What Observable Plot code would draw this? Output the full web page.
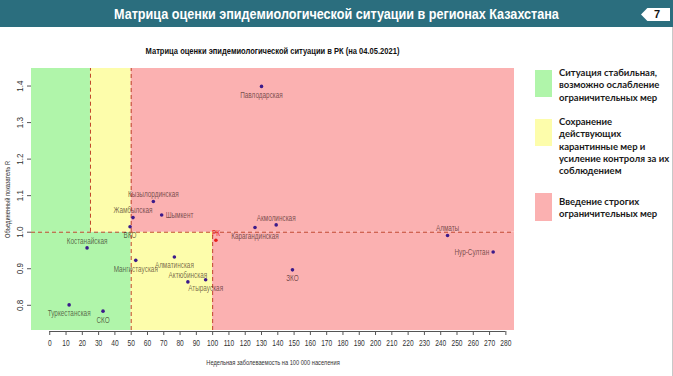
<!DOCTYPE html>
<html><head><meta charset="utf-8">
<script src="https://cdn.jsdelivr.net/npm/d3@7"></script>
<script src="https://cdn.jsdelivr.net/npm/@observablehq/plot@0.6"></script>
<style>
body{margin:0;width:673px;height:376px;overflow:hidden;background:#fff;position:relative;font-family:"Liberation Sans",Arial,sans-serif;}
#bar{position:absolute;left:0;top:0;width:673px;height:27px;background:#2b6e7e;}
#bar .t{position:absolute;left:0;width:673px;top:6px;text-align:center;color:#fff;font-weight:bold;font-size:14px;transform:scaleX(0.9);transform-origin:336px 0;}
#badge{position:absolute;left:641px;top:8px;width:29px;height:13px;background:#fff;clip-path:polygon(22% 0,100% 0,100% 100%,22% 100%,0 50%);}
#badge span{position:absolute;left:13px;top:0px;font:bold 11px "Liberation Sans",Arial,sans-serif;color:#111;line-height:13px;}
#edge{position:absolute;left:672px;top:27px;width:1px;height:349px;background:#c8c8c8;}
#ctitle{position:absolute;left:0;width:545px;top:45px;text-align:center;font-weight:bold;font-size:9.8px;color:#111;transform:scaleX(0.77);transform-origin:272.5px 0;}
#chart{position:absolute;left:0;top:58px;}
.sw{position:absolute;left:535px;width:17px;}
.lg{position:absolute;left:559px;font-family:Lato,"Open Sans",sans-serif;font-weight:700;font-size:9.5px;line-height:12.3px;color:#1a1a1a;white-space:nowrap;}
</style></head>
<body>
<div id="bar"><div class="t">Матрица оценки эпидемиологической ситуации в регионах Казахстана</div></div>
<div id="badge"><span>7</span></div>
<div id="edge"></div>
<div id="ctitle">Матрица оценки эпидемиологической ситуации в РК (на 04.05.2021)</div>
<div id="chart"></div>
<div id="legend"></div>
<script>
// ---- data ----
const regions   = ["Павлодарская","Кызылординская","Жамбылская","Шымкент","ВКО","РК","Карагандинская","Акмолинская","Мангистауская","Алматинская","Актюбинская","Атырауская","ЗКО","Костанайская","Туркестанская","СКО","Алматы","Нур-Султан"];
const incidence = [130, 63.6, 51.1, 68.7, 49.3, 102, 126, 139, 52.8, 76.5, 84.8, 95.7, 149, 22.9, 11.9, 32.7, 244.2, 272.2];
const rValue    = [1.399, 1.084, 1.040, 1.047, 1.015, 0.978, 1.013, 1.020, 0.923, 0.932, 0.864, 0.870, 0.897, 0.957, 0.801, 0.784, 0.991, 0.946];
const xTicks = [0,10,20,30,40,50,60,70,80,90,100,110,120,130,140,150,160,170,180,190,200,210,220,230,240,250,260,270,280];
const yTicks = [0.8,0.9,1.0,1.1,1.2,1.3,1.4];
const incidenceThresholds = [25, 50, 100];
const rThreshold = 1.0;
const legendItems = [
  "Ситуация стабильная,<br>возможно ослабление<br>ограничительных мер",
  "Сохранение<br>действующих<br>карантинные мер и<br>усиление контроля за их<br>соблюдением",
  "Введение строгих<br>ограничительных мер"
];
const xTitle = "Недельная заболеваемость на 100 000 населения";
const yTitle = "Объединенный показатель R";

// label placement (presentation)
const side = {"Павлодарская":"below","Кызылординская":"above","Жамбылская":"above","Шымкент":"right","ВКО":"below","РК":"above","Карагандинская":"below","Акмолинская":"above","Мангистауская":"below","Алматинская":"below","Актюбинская":"above","Атырауская":"below","ЗКО":"below","Костанайская":"above","Туркестанская":"below","СКО":"below","Алматы":"above","Нур-Султан":"left"};

const GREEN="#b0f5aa", YELLOW="#fdfdab", RED="#fbb1b1";
const xDomain=[-11.2,285.3], yDomain=[0.731,1.448];
const [t1,t2,t3]=incidenceThresholds;
const zones=[
  {x1:xDomain[0],x2:t1,y1:rThreshold,y2:yDomain[1],c:GREEN},
  {x1:xDomain[0],x2:t2,y1:yDomain[0],y2:rThreshold,c:GREEN},
  {x1:t1,x2:t2,y1:rThreshold,y2:yDomain[1],c:YELLOW},
  {x1:t2,x2:t3,y1:yDomain[0],y2:rThreshold,c:YELLOW},
  {x1:t2,x2:xDomain[1],y1:rThreshold,y2:yDomain[1],c:RED},
  {x1:t3,x2:xDomain[1],y1:yDomain[0],y2:rThreshold,c:RED}
];
const vLines=[
  {x:t1,y1:rThreshold,y2:yDomain[1]},
  {x:t2,y1:yDomain[0],y2:yDomain[1]},
  {x:t3,y1:yDomain[0],y2:rThreshold}
];
const data = regions.map((n,i)=>({name:n,x:incidence[i],y:rValue[i],side:side[n]}));
const DASH="#c0452c";
const font='"Liberation Sans",Arial,sans-serif';
const lblOpts = {x:"x",y:"y",text:"name",fontSize:9,fill:d=>d.name==="РК"?"#e8201a":"#1a0505",fillOpacity:d=>d.name==="РК"?1:0.62};

const chart = Plot.plot({
  width:530,height:318,marginTop:10,marginBottom:46,marginLeft:31,marginRight:16,
  x:{domain:xDomain},y:{domain:yDomain},
  color:{type:"identity"},
  style:{fontFamily:font,fontSize:"8.5px",background:"transparent",overflow:"visible"},
  marks:[
    Plot.rect(zones,{x1:"x1",x2:"x2",y1:"y1",y2:"y2",fill:"c"}),
    Plot.ruleX(vLines,{x:"x",y1:"y1",y2:"y2",stroke:DASH,strokeDasharray:"4,3",strokeWidth:1}),
    Plot.ruleY([rThreshold],{stroke:DASH,strokeDasharray:"4,3",strokeWidth:1}),
    Plot.dot(data,{x:"x",y:"y",r:1.8,fill:d=>d.name==="РК"?"#e8201a":"#3b1a8a",stroke:null}),
    Plot.text(data.filter(d=>d.side==="above"),{...lblOpts,dy:-7}),
    Plot.text(data.filter(d=>d.side==="below"),{...lblOpts,dy:8.5}),
    Plot.text(data.filter(d=>d.side==="right"),{...lblOpts,dx:4,textAnchor:"start"}),
    Plot.text(data.filter(d=>d.side==="left"),{...lblOpts,dx:-4,textAnchor:"end"}),
    Plot.axisX({ticks:xTicks,tickSize:4,tickPadding:4,dy:1,stroke:"#555",color:"#333",fontSize:8.5,label:null}),
    Plot.ruleY([yDomain[0]],{x1:xTicks[0],x2:xTicks[xTicks.length-1],dy:1,stroke:"#555"}),
    Plot.axisY({ticks:yTicks,tickSize:4,tickFormat:()=>"",stroke:"#555",label:null}),
    Plot.text(yTicks,{y:d=>d,text:d=>d.toFixed(1),frameAnchor:"left",textAnchor:"middle",lineAnchor:"middle",dx:-11,rotate:-90,fill:"#333",fontSize:8.5}),
    Plot.text([xTitle],{frameAnchor:"bottom",dy:34,fill:"#333",fontSize:8}),
    Plot.text([yTitle],{frameAnchor:"left",textAnchor:"middle",lineAnchor:"middle",dx:-24.5,rotate:-90,fill:"#333",fontSize:8})
  ]
});
document.getElementById("chart").append(chart);
// condense chart text (the original uses a narrow font)
chart.querySelectorAll("text").forEach(t=>{
  const L=t.getComputedTextLength(); const s=t.textContent;
  const k = /^[\d.]+$/.test(s) ? (s.includes(".") ? 0.95 : 0.78) : 0.71;
  if(L>0){t.setAttribute("textLength",(L*k).toFixed(2));t.setAttribute("lengthAdjust","spacingAndGlyphs");}
});

const lg=document.getElementById("legend");
const swTop=[70,119,193], swH=[27,27,28], txTop=[67,116,196], swC=[GREEN,YELLOW,RED];
legendItems.forEach((t,i)=>{
  const s=document.createElement("div");s.className="sw";s.style.top=swTop[i]+"px";s.style.height=swH[i]+"px";s.style.background=swC[i];lg.append(s);
  const d=document.createElement("div");d.className="lg";d.style.top=txTop[i]+"px";d.innerHTML=t;lg.append(d);
});
</script>
</body></html>
